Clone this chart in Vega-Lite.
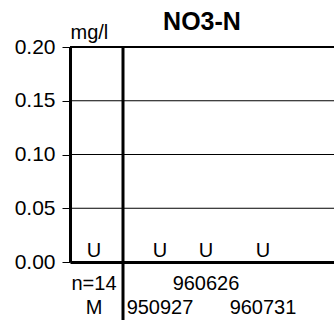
{
  "$schema": "https://vega.github.io/schema/vega-lite/v6.json",
  "width": 264,
  "height": 215,
  "autosize": {"type": "none"},
  "padding": {"left": 70, "top": 47, "right": 0, "bottom": 58},
  "config": {"font": "Liberation Sans", "view": {"stroke": null}},
  "title": {"text": "NO3-N", "fontSize": 25, "fontWeight": "bold", "anchor": "middle", "frame": "group", "offset": 0, "dy": 33, "baseline": "alphabetic", "color": "black"},
  "datasets": {
    "samples": [
      {"sample": "median", "top": "n=14", "bottom": "M", "x": 24, "no3n": 0, "flag": "U"},
      {"sample": "950927", "top": "", "bottom": "950927", "x": 90, "no3n": 0, "flag": "U"},
      {"sample": "960626", "top": "960626", "bottom": "", "x": 136, "no3n": 0, "flag": "U"},
      {"sample": "960731", "top": "", "bottom": "960731", "x": 193, "no3n": 0, "flag": "U"}
    ],
    "grid": [{"v": 0.05}, {"v": 0.1}, {"v": 0.15}, {"v": 0.2}],
    "separator": [{"x": 53, "top": 0.2, "bottom": -0.056}]
  },
  "layer": [
    {
      "data": {"name": "grid"},
      "mark": {"type": "rule", "color": "black"},
      "encoding": {
        "y": {
          "field": "v", "type": "quantitative",
          "scale": {"domain": [0, 0.2], "nice": false, "zero": false},
          "axis": {
            "title": "mg/l", "values": [0, 0.025, 0.05, 0.075, 0.1, 0.125, 0.15, 0.175, 0.2],
            "labelExpr": "round(datum.value*1000) % 50 == 0 ? format(datum.value, '.2f') : ''",
            "grid": false, "domainWidth": 3, "domainColor": "black", "tickColor": "black",
            "tickSize": 8, "tickWidth": 1, "labelFontSize": 21, "labelColor": "black", "labelPadding": 7,
            "titleAngle": 0, "titleAlign": "left", "titleBaseline": "alphabetic", "titleX": 0, "titleY": -9,
            "titleFontSize": 20, "titleFontWeight": "normal", "titleColor": "black"
          }
        },
        "strokeWidth": {"condition": {"test": "datum.v == 0.2", "value": 2}, "value": 1}
      }
    },
    {
      "data": {"name": "samples"},
      "mark": {"type": "text", "fontSize": 20, "baseline": "alphabetic", "dy": -5, "color": "black"},
      "encoding": {
        "x": {"field": "x", "type": "quantitative", "scale": {"domain": [0, 264], "nice": false, "zero": false},
              "axis": {"title": null, "labels": false, "ticks": false, "grid": false, "domainWidth": 3, "domainColor": "black"}},
        "y": {"field": "no3n", "type": "quantitative"},
        "text": {"field": "flag"}
      }
    },
    {
      "data": {"name": "samples"},
      "mark": {"type": "text", "fontSize": 20, "baseline": "alphabetic", "dy": 28, "color": "black"},
      "encoding": {
        "x": {"field": "x", "type": "quantitative"},
        "y": {"field": "no3n", "type": "quantitative"},
        "text": {"field": "top"}
      }
    },
    {
      "data": {"name": "samples"},
      "mark": {"type": "text", "fontSize": 20, "baseline": "alphabetic", "dy": 52, "color": "black"},
      "encoding": {
        "x": {"field": "x", "type": "quantitative"},
        "y": {"field": "no3n", "type": "quantitative"},
        "text": {"field": "bottom"},
        "fontWeight": {"condition": {"test": "datum.sample == 'median'", "value": "bold"}, "value": "normal"}
      }
    },
    {
      "data": {"name": "separator"},
      "mark": {"type": "rule", "strokeWidth": 3, "color": "black", "clip": false},
      "encoding": {
        "x": {"field": "x", "type": "quantitative"},
        "y": {"field": "top", "type": "quantitative"},
        "y2": {"field": "bottom"}
      }
    }
  ]
}
